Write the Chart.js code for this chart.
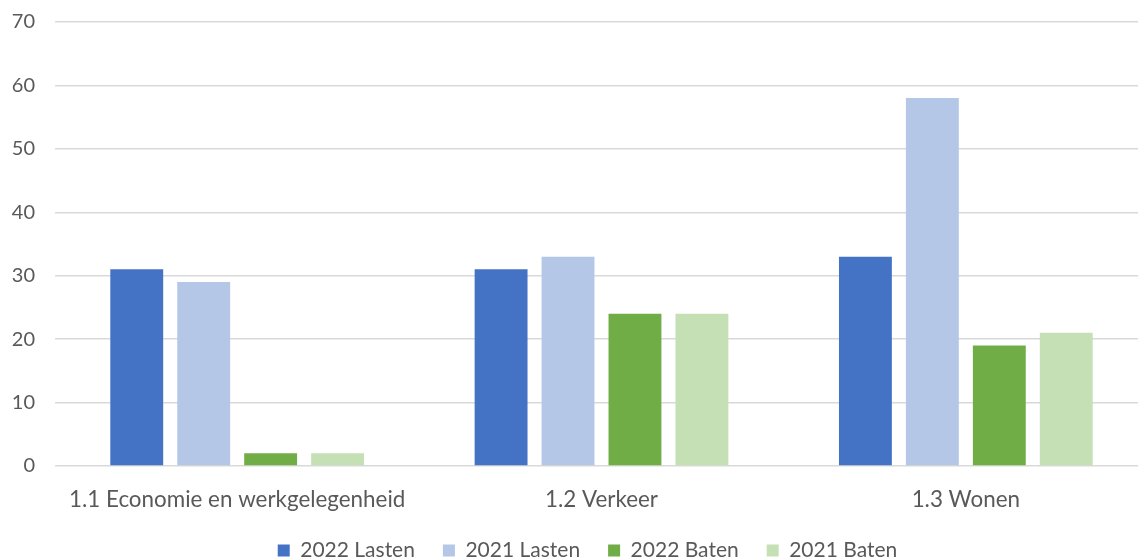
<!DOCTYPE html>
<html lang="en">
<head>
    <meta charset="UTF-8">
    <script src="https://cdn.jsdelivr.net/npm/chart.js@4"></script>
    <title>Lasten en baten</title>
    <style type="text/css">
        html, body { margin: 0; padding: 0; background: #ffffff; }
        #wrap { width: 1138px; height: 560px; }
    </style>
</head>
<body>
<div id="wrap"><canvas id="chart"></canvas></div>
<script>
var categories = ['1.1 Economie en werkgelegenheid', '1.2 Verkeer', '1.3 Wonen'];
var lasten2022 = [31, 31, 33];
var lasten2021 = [29, 33, 58];
var baten2022 = [2, 24, 19];
var baten2021 = [2, 24, 21];
var yTicks = [0, 10, 20, 30, 40, 50, 60, 70];

var fontName = "Lato, 'Open Sans', sans-serif";
var txtColor = '#595959';

function ds(label, data, color) {
    return {
        label: label,
        data: data,
        backgroundColor: color,
        borderWidth: 0,
        categoryPercentage: 0.735,
        barPercentage: 0.79
    };
}

// fixed legend strip height, nudge it a bit right, and let the
// category axis run a little past the right edge (original is cropped)
var layoutTweak = {
    id: 'layoutTweak',
    beforeInit: function (chart) {
        var orig = chart.legend.fit;
        chart.legend.fit = function () {
            orig.call(this);
            this.height = 48;
        };
    },
    afterLayout: function (chart) {
        chart.legend.left = 37;
        chart.legend.right = 1138;
        var x = chart.scales.x;
        x.right = x.right + 10;
        x.width = x.width + 10;
        x.configure();
    }
};

new Chart(document.getElementById('chart'), {
    type: 'bar',
    data: {
        labels: categories,
        datasets: [
            ds('2022 Lasten', lasten2022, '#4472C4'),
            ds('2021 Lasten', lasten2021, '#B4C7E7'),
            ds('2022 Baten', baten2022, '#70AD47'),
            ds('2021 Baten', baten2021, '#C5E0B4')
        ]
    },
    plugins: [layoutTweak],
    options: {
        responsive: true,
        maintainAspectRatio: false,
        animation: false,
        layout: { padding: { top: 22, right: 0, left: 0, bottom: 0 } },
        plugins: {
            tooltip: { enabled: false },
            legend: {
                position: 'bottom',
                labels: {
                    color: txtColor,
                    font: { family: fontName, size: 21 },
                    boxWidth: 12,
                    boxHeight: 12,
                    padding: 28
                }
            }
        },
        scales: {
            x: {
                grid: { display: false, drawTicks: false },
                border: { display: false },
                ticks: {
                    color: txtColor,
                    font: { family: fontName, size: 22.4 },
                    padding: 20,
                    maxRotation: 0
                },
                afterFit: function (axis) { axis.height = 46; }
            },
            y: {
                min: 0,
                max: 70,
                afterBuildTicks: function (axis) {
                    axis.ticks = yTicks.map(function (v) { return { value: v }; });
                },
                grid: { color: '#d9d9d9', lineWidth: 1.5, drawTicks: false },
                border: { display: false },
                ticks: {
                    color: txtColor,
                    font: { family: fontName, size: 20 },
                    padding: 20
                },
                afterFit: function (axis) {
                    axis.width = 55;
                    axis.paddingTop = 0;
                    axis.paddingBottom = 0;
                }
            }
        }
    }
});
</script>
</body>
</html>
